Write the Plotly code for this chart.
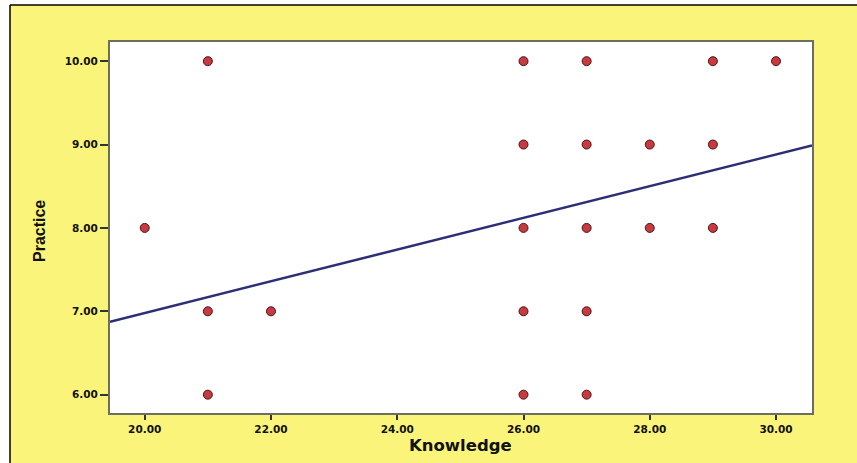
import plotly.graph_objects as go

# Data
knowledge = [20, 21, 21, 21, 22, 26, 26, 26, 26, 26, 27, 27, 27, 27, 27, 28, 28, 29, 29, 29, 30]
practice  = [8, 10, 7, 6, 7, 10, 9, 8, 7, 6, 10, 9, 8, 7, 6, 9, 8, 10, 9, 8, 10]

# Fit line: practice = intercept + slope * knowledge
fit_intercept = 3.18
fit_slope = 0.19
x_range = [19.45, 30.57]
y_range = [5.78, 10.23]

x_ticks = [20, 22, 24, 26, 28, 30]
y_ticks = [6, 7, 8, 9, 10]

fit_x = x_range
fit_y = [fit_intercept + fit_slope * v for v in fit_x]

W, H = 857, 463
L, R, T, B = 110, 45, 42, 50
pw, ph = W - L - R, H - T - B

def px_x(p):
    return (p - L) / pw

def px_y(p):
    return (H - B - p) / ph

fig = go.Figure()
fig.add_trace(go.Scatter(
    x=fit_x, y=fit_y, mode="lines",
    line=dict(color="#2B2F78", width=2.5), hoverinfo="skip", showlegend=False))
fig.add_trace(go.Scatter(
    x=knowledge, y=practice, mode="markers",
    marker=dict(color="#C83A40", size=9, line=dict(color="#4A1515", width=1)),
    showlegend=False))

tick_font = dict(family="DejaVu Sans", size=10.5, color="#111111", weight="bold")
axis_color = "#6E6E5E"

fig.update_xaxes(range=x_range, tickvals=x_ticks, tickformat=".2f",
                 showgrid=False, zeroline=False, showline=True, mirror=True,
                 linecolor=axis_color, linewidth=2, ticks="outside", ticklen=5,
                 tickcolor="#333333", tickwidth=1.5, tickfont=tick_font)
fig.update_yaxes(range=y_range, tickvals=y_ticks, tickformat=".2f",
                 showgrid=False, zeroline=False, showline=True, mirror=True,
                 linecolor=axis_color, linewidth=2, ticks="outside", ticklen=8,
                 tickcolor="#333333", tickwidth=1.5, tickfont=tick_font)

shapes = [
    # white strips outside yellow box
    dict(type="rect", xref="paper", yref="paper", x0=px_x(-5), x1=px_x(10), y0=px_y(470), y1=px_y(-5),
         fillcolor="white", line=dict(width=0), layer="below"),
    dict(type="rect", xref="paper", yref="paper", x0=px_x(-5), x1=px_x(865), y0=px_y(5), y1=px_y(-5),
         fillcolor="white", line=dict(width=0), layer="below"),
    # black borders
    dict(type="line", xref="paper", yref="paper", x0=px_x(10), x1=px_x(10), y0=px_y(470), y1=px_y(5),
         line=dict(color="black", width=1.5)),
    dict(type="line", xref="paper", yref="paper", x0=px_x(10), x1=px_x(865), y0=px_y(5), y1=px_y(5),
         line=dict(color="black", width=1.5)),
]

annotations = [
    dict(text="<b>Knowledge</b>", xref="paper", yref="paper", x=px_x(460), y=px_y(446),
         xanchor="center", yanchor="middle", showarrow=False,
         font=dict(family="DejaVu Sans", size=16.5, color="#111111")),
    dict(text="<b>Practice</b>", xref="paper", yref="paper", x=px_x(39), y=px_y(231),
         xanchor="center", yanchor="middle", showarrow=False, textangle=-90,
         font=dict(family="Liberation Sans Narrow, Arial Narrow, Liberation Sans", size=16, color="#111111")),
]

fig.update_layout(
    width=W, height=H, margin=dict(l=L, r=R, t=T, b=B),
    paper_bgcolor="#FAF57A", plot_bgcolor="white",
    shapes=shapes, annotations=annotations, showlegend=False,
)

fig.write_html("out.html", config={"displayModeBar": False},
               post_script="document.body.style.margin='0px';document.body.style.overflow='hidden';")
